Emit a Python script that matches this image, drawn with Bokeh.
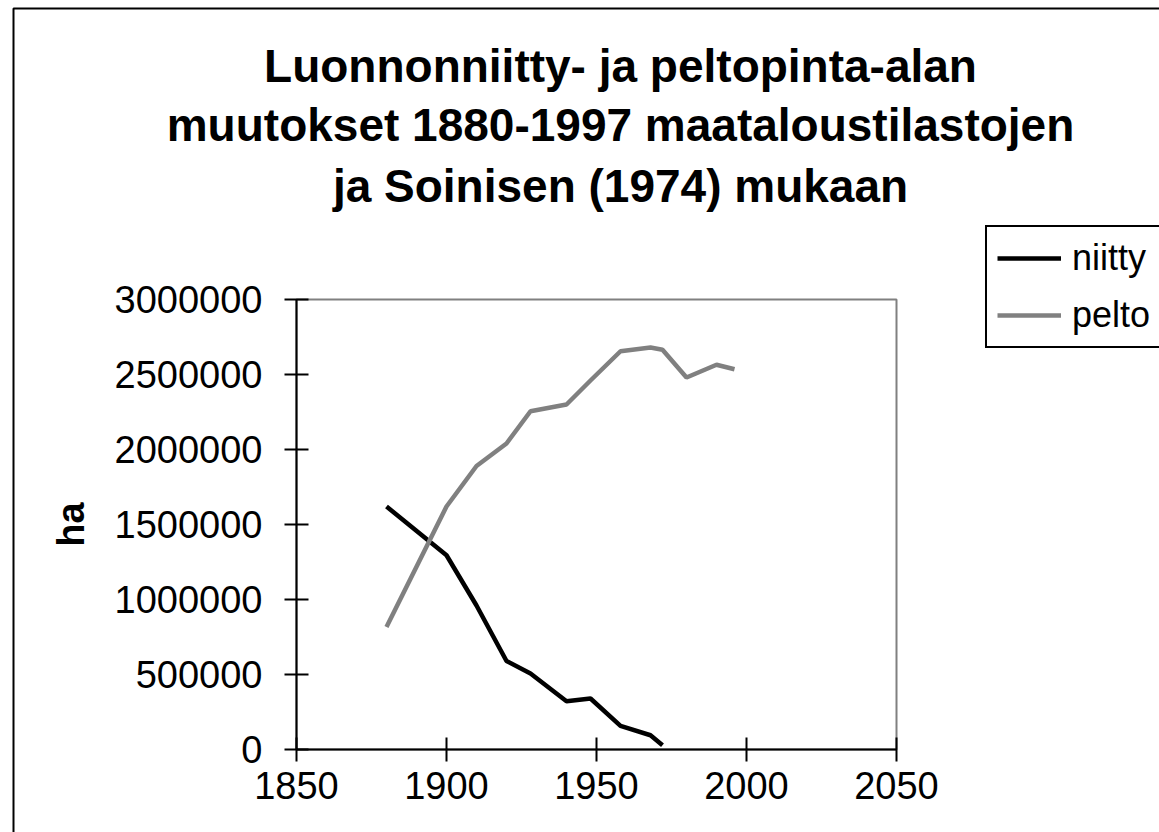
from bokeh.plotting import figure
from bokeh.models import (Range1d, FixedTicker, NumeralTickFormatter, Legend, LegendItem,
                          Label, BoxAnnotation)
from bokeh.embed import file_html
from bokeh.resources import INLINE

# ---- data ----
years_niitty = [1880, 1900, 1910, 1920, 1928, 1940, 1948, 1958, 1968, 1972]
niitty = [1620000, 1295000, 960000, 590000, 507000, 322000, 340000, 157000, 95000, 29000]

years_pelto = [1880, 1900, 1910, 1920, 1928, 1940, 1948, 1958, 1968, 1972, 1980, 1990, 1996]
pelto = [817000, 1620000, 1890000, 2040000, 2255000, 2300000, 2460000, 2655000,
         2680000, 2665000, 2480000, 2565000, 2535000]

x_ticks = [1850, 1900, 1950, 2000, 2050]
y_ticks = [0, 500000, 1000000, 1500000, 2000000, 2500000, 3000000]

title_lines = ["Luonnonniitty- ja peltopinta-alan",
               "muutokset 1880-1997 maataloustilastojen",
               "ja Soinisen (1974) mukaan"]
series_names = ["niitty", "pelto"]
y_label = "ha"

FONT = "Liberation Sans"
W, H = 1159, 832

# layout geometry (pixels): plot area 296..896 x 299..749
PX0, PX1, PY0, PY1 = 296, 896, 299, 749
XMIN, XMAX = x_ticks[0], x_ticks[-1]
YMIN, YMAX = y_ticks[0], y_ticks[-1]
sx = (XMAX - XMIN) / (PX1 - PX0)
sy = (YMAX - YMIN) / (PY1 - PY0)


def X(px):
    return XMIN + (px - PX0) * sx


def Y(py):
    return YMIN + (PY1 - py) * sy


p = figure(width=W, height=H, output_backend="svg", toolbar_location=None,
           x_range=Range1d(X(0), X(W)), y_range=Range1d(Y(H), Y(0)),
           min_border=0)
p.min_border_left = 0
p.min_border_right = 0
p.min_border_top = 0
p.min_border_bottom = 0
p.background_fill_color = "white"
p.border_fill_color = "white"
p.outline_line_color = None
p.xgrid.visible = False
p.ygrid.visible = False

# plot area border (grey)
p.add_layout(BoxAnnotation(left=XMIN, right=XMAX, bottom=YMIN, top=YMAX,
                           fill_alpha=0, line_color="#808080", line_alpha=1.0,
                           line_width=2, level="underlay"))
# outer chart border (black)
p.add_layout(BoxAnnotation(left=X(13), right=X(W + 50), top=Y(8), bottom=Y(H + 50),
                           fill_alpha=0, line_color="black", line_alpha=1.0,
                           line_width=2, level="underlay"))

r1 = p.line(years_niitty, niitty, line_color="black", line_width=4.5)
r2 = p.line(years_pelto, pelto, line_color="#808080", line_width=4.5)

p.xaxis.fixed_location = YMIN
p.yaxis.fixed_location = XMIN
p.xaxis.bounds = (XMIN, XMAX)
p.yaxis.bounds = (YMIN, YMAX)

for ax in (p.xaxis[0], p.yaxis[0]):
    ax.axis_line_color = "black"
    ax.axis_line_width = 2
    ax.major_tick_line_color = "black"
    ax.major_tick_line_width = 2
    ax.major_tick_out = 12
    ax.major_tick_in = 12
    ax.minor_tick_line_color = None
    ax.major_label_text_font = FONT
    ax.major_label_text_font_size = "38px"
    ax.major_label_text_color = "black"

p.xaxis.ticker = FixedTicker(ticks=x_ticks)
p.yaxis.ticker = FixedTicker(ticks=y_ticks)
p.yaxis.formatter = NumeralTickFormatter(format="0")
p.xaxis.formatter = NumeralTickFormatter(format="0")
p.xaxis.major_label_standoff = 10
p.yaxis.major_label_standoff = 22

p.yaxis.axis_label = y_label
p.yaxis.axis_label_text_font = FONT
p.yaxis.axis_label_text_font_size = "38px"
p.yaxis.axis_label_text_font_style = "bold"
p.yaxis.axis_label_text_color = "black"
p.yaxis.axis_label_standoff = 20

# title lines
baselines = [65, 124.5, 185]
for txt, yb in zip(title_lines, baselines):
    p.add_layout(Label(x=X(620), y=Y(yb), text=txt,
                       text_align="center", text_baseline="alphabetic",
                       text_font=FONT, text_font_size="46px", text_font_style="bold",
                       text_color="black"))

legend = Legend(items=[LegendItem(label=series_names[0], renderers=[r1]),
                       LegendItem(label=series_names[1], renderers=[r2])],
                location=(985, H - 348))
legend.border_line_color = "black"
legend.border_line_alpha = 1.0
legend.border_line_width = 2
legend.background_fill_color = "white"
legend.background_fill_alpha = 1
legend.label_text_font = FONT
legend.label_text_font_size = "36px"
legend.label_text_color = "black"
legend.glyph_width = 64
legend.glyph_height = 40
legend.label_height = 40
legend.label_standoff = 11
legend.spacing = 15
legend.padding = 10
legend.margin = 0
p.add_layout(legend, "center")

open("out.html", "w").write(file_html(p, INLINE))
